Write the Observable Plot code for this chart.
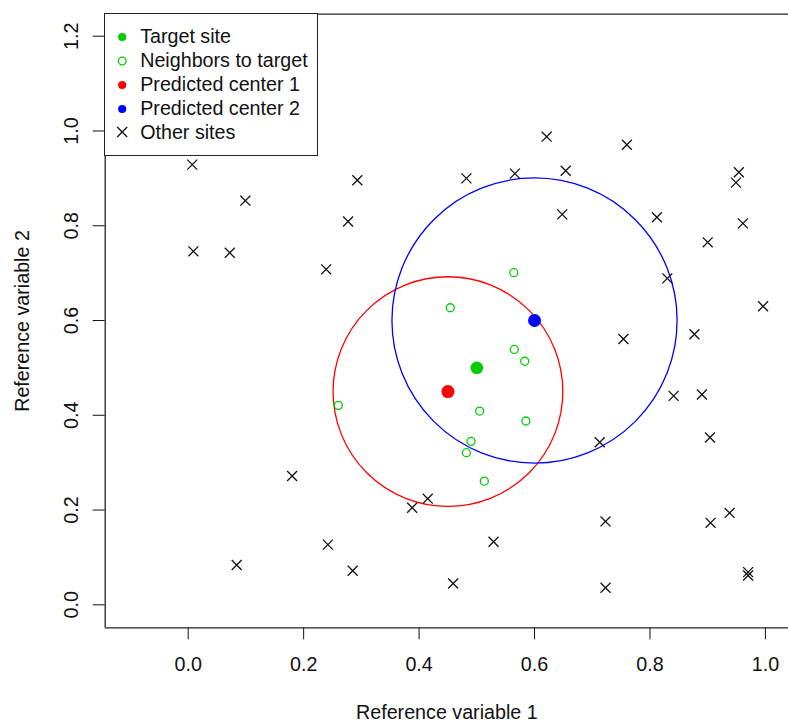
<!DOCTYPE html>
<html><head><meta charset="utf-8">
<script src="https://cdn.jsdelivr.net/npm/d3@7"></script>
<script src="https://cdn.jsdelivr.net/npm/@observablehq/plot@0.6"></script>
<style>
body{margin:0;background:#fff;}
#wrap{position:relative;width:788px;height:725px;font-family:"Liberation Sans",Arial,Helvetica,sans-serif;}
#legend{position:absolute;left:104.2px;top:13.2px;width:214px;height:143px;box-sizing:border-box;border:1.3px solid #222;background:#fff;padding-top:10.8px;}
.row{height:23.9px;display:flex;align-items:center;font-size:19.7px;color:#111;white-space:nowrap;}
.row svg{flex:none;}
</style></head>
<body><div id="wrap"><div id="chart"></div><div id="legend"></div></div>
<script>
// ---- data ----
const xTicks = [0.0, 0.2, 0.4, 0.6, 0.8, 1.0];
const yTicks = [0.0, 0.2, 0.4, 0.6, 0.8, 1.0, 1.2];

const targetX = [0.5];
const targetY = [0.5];

const neighborX = [0.564, 0.454, 0.565, 0.583, 0.505, 0.585, 0.490, 0.482, 0.513, 0.260];
const neighborY = [0.701, 0.627, 0.539, 0.514, 0.409, 0.388, 0.345, 0.321, 0.261, 0.421];

const otherX = [0.007, 0.099, 0.293, 0.277, 0.009, 0.072, 0.239, 0.180, 0.084, 0.242,
                0.285, 0.388, 0.415, 0.529, 0.459, 0.723, 0.723, 0.905, 0.938, 0.970,
                0.970, 0.621, 0.760, 0.482, 0.566, 0.654, 0.954, 0.949, 0.648, 0.812,
                0.961, 0.900, 0.830, 0.996, 0.877, 0.754, 0.841, 0.890, 0.904, 0.713];
const otherY = [0.929, 0.853, 0.896, 0.809, 0.746, 0.743, 0.708, 0.272, 0.084, 0.127,
                0.072, 0.205, 0.224, 0.133, 0.045, 0.176, 0.036, 0.173, 0.194, 0.069,
                0.062, 0.988, 0.971, 0.900, 0.910, 0.916, 0.913, 0.891, 0.824, 0.818,
                0.805, 0.765, 0.689, 0.630, 0.571, 0.561, 0.441, 0.444, 0.353, 0.343];

const centerX = [0.45, 0.60];
const centerY = [0.45, 0.60];
const centerRadius = [0.199, 0.247];
const centerColors = ["#ff0000", "#0000ff"];

const legendLabels = ["Target site", "Neighbors to target", "Predicted center 1", "Predicted center 2", "Other sites"];
const legendSymbols = ["dot", "ring", "dot", "dot", "cross"];
const legendColors = ["#00cd00", "#00cd00", "#ff0000", "#0000ff", "#111"];

const xLabel = "Reference variable 1";
const yLabel = "Reference variable 2";

// ---- layout ----
const W = 788, H = 725, ML = 104.7, MT = 13.7, MB = 97.7, MR = 0;
const xDomain = [-0.1438, 1.04], yDomain = [-0.0485, 1.2465];
const pxPerX = (W - ML - MR) / (xDomain[1] - xDomain[0]);
const FONT = '"Liberation Sans", Arial, Helvetica, sans-serif';

const pts = (xs, ys) => xs.map((x, i) => ({x, y: ys[i]}));
const others = pts(otherX, otherY);
const neighbors = pts(neighborX, neighborY);
const target = pts(targetX, targetY);
const centers = centerX.map((x, i) => ({x, y: centerY[i], rad: centerRadius[i], color: centerColors[i]}));
const fmt = d => d.toFixed(1);

const plot = Plot.plot({
  width: W, height: H,
  marginLeft: ML, marginTop: MT, marginBottom: MB, marginRight: MR,
  style: {fontFamily: FONT, fontSize: "19.7px", color: "#111", background: "#fff", overflow: "visible"},
  x: {domain: xDomain, ticks: xTicks, tickSize: 12, tickFormat: () => "", label: null},
  y: {domain: yDomain, ticks: yTicks, tickSize: 12, tickFormat: () => "", label: null},
  r: {type: "linear", domain: [0, 1], range: [0, pxPerX]},
  marks: [
    Plot.ruleY([yDomain[1], yDomain[0]], {stroke: "#222", strokeWidth: 1.3}),
    Plot.ruleX([xDomain[0]], {stroke: "#222", strokeWidth: 1.3}),
    ...centers.map(c => Plot.dot([c], {x: "x", y: "y", r: "rad", stroke: c.color, fill: "none", strokeWidth: 1.3})),
    Plot.dot(others, {x: "x", y: "y", symbol: "times", r: 4.6, stroke: "#111", strokeWidth: 1.3}),
    Plot.dot(neighbors, {x: "x", y: "y", r: 4, stroke: "#00cd00", fill: "none", strokeWidth: 1.3}),
    Plot.dot(target, {x: "x", y: "y", r: 6.3, fill: "#00cd00"}),
    ...centers.map(c => Plot.dot([c], {x: "x", y: "y", r: 6.5, fill: c.color})),
    Plot.text(xTicks, {x: d => d, frameAnchor: "bottom", dy: 36.7, text: fmt, lineAnchor: "middle", fill: "#111"}),
    Plot.text(yTicks, {y: d => d, frameAnchor: "left", dx: -34, rotate: -90, text: fmt, lineAnchor: "middle", textAnchor: "middle", fill: "#111"}),
    Plot.text([xLabel], {frameAnchor: "bottom", dy: 84.4, text: d => d, lineAnchor: "middle", fill: "#111"}),
    Plot.text([yLabel], {frameAnchor: "left", dx: -82.7, rotate: -90, text: d => d, lineAnchor: "middle", textAnchor: "middle", fill: "#111"})
  ]
});
document.getElementById("chart").appendChild(plot);

// ---- legend ----
const legend = d3.select("#legend");
legendLabels.forEach((lab, i) => {
  const row = legend.append("div").attr("class", "row");
  const svg = row.append("svg").attr("width", 35).attr("height", 20);
  const cx = 17.2, cy = 10;
  if (legendSymbols[i] === "dot") svg.append("circle").attr("cx", cx).attr("cy", cy).attr("r", 4.1).attr("fill", legendColors[i]);
  else if (legendSymbols[i] === "ring") svg.append("circle").attr("cx", cx).attr("cy", cy).attr("r", 3.9).attr("fill", "none").attr("stroke", legendColors[i]).attr("stroke-width", 1.3);
  else svg.append("path").attr("d", `M${cx-5},${cy-5}L${cx+5},${cy+5}M${cx-5},${cy+5}L${cx+5},${cy-5}`).attr("stroke", legendColors[i]).attr("stroke-width", 1.3);
  row.append("span").text(lab);
});
</script>
</body></html>
